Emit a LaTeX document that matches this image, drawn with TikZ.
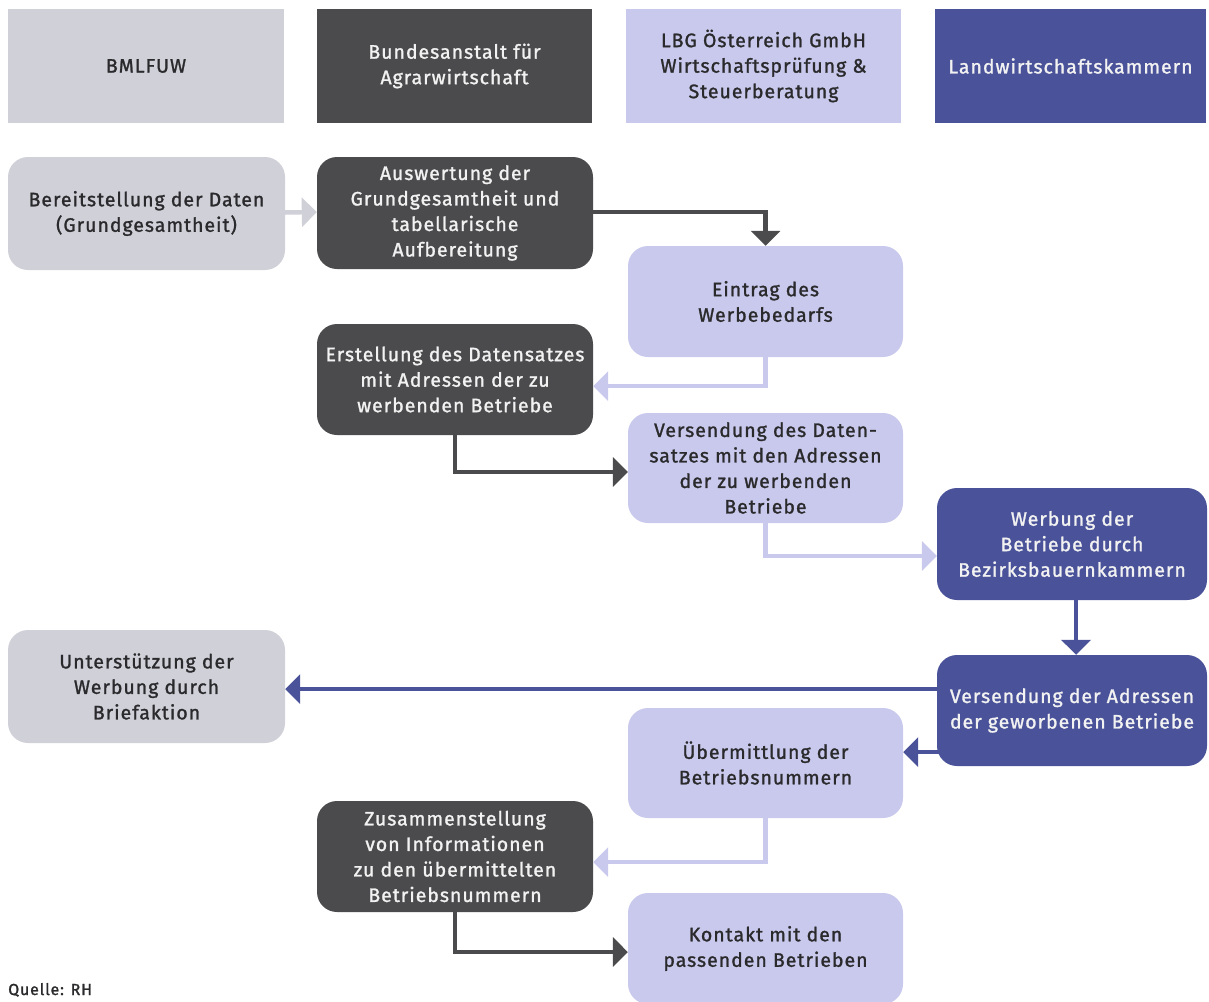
\documentclass[tikz,border=0pt]{standalone}
\usepackage{fontspec}
\setmainfont{Fira Sans}[FakeBold=1.3, LetterSpace=5]
\usetikzlibrary{arrows.meta}
\definecolor{lgray}{HTML}{CFD0D8}
\definecolor{dgray}{HTML}{4B4B4D}
\definecolor{lav}{HTML}{C8C9EC}
\definecolor{dblue}{HTML}{4A5399}
\definecolor{darktext}{HTML}{2A2A2C}
\definecolor{lighttext}{HTML}{F2F2F2}
\begin{document}
\begin{tikzpicture}[x=1pt,y=-1pt,
  txt/.style={inner sep=0pt, align=center, font=\fontsize{19.5}{25.5}\selectfont},
  hbox/.style={txt, minimum height=114pt},
  rbox/.style={txt, rounded corners=20pt},
  lg/.style={fill=lgray, text=darktext},
  dg/.style={fill=dgray, text=lighttext},
  lv/.style={fill=lav, text=darktext},
  db/.style={fill=dblue, text=lighttext},
  arr/.style={line width=4.5pt, -{Triangle[length=15pt,width=29pt]}},
]
\useasboundingbox (0,0) rectangle (1209,1001);
% header
\node[hbox,lg,minimum width=276pt] (H1) at (146,66) {BMLFUW};
\node[hbox,dg,minimum width=275pt] (H2) at (454.5,66) {Bundesanstalt für\\Agrarwirtschaft};
\node[hbox,lv,minimum width=275pt] (H3) at (763.5,66) {LBG Österreich GmbH\\Wirtschaftsprüfung \&\\Steuerberatung};
\node[hbox,db,minimum width=271pt] (H4) at (1070.5,66) {Landwirtschaftskammern};
% process boxes
\node[rbox,lg,minimum width=277pt,minimum height=113pt] (B1) at (146.5,213.5) {Bereitstellung der Daten\\(Grundgesamtheit)};
\node[rbox,dg,minimum width=276pt,minimum height=112pt] (B2) at (455,213) {Auswertung der\\Grundgesamtheit und\\tabellarische\\Aufbereitung};
\node[rbox,lv,minimum width=275pt,minimum height=111pt] (B3) at (765.5,301.5) {Eintrag des\\Werbebedarfs};
\node[rbox,dg,minimum width=276pt,minimum height=111pt] (B4) at (455,379.5) {Erstellung des Datensatzes\\mit Adressen der zu\\werbenden Betriebe};
\node[rbox,lv,minimum width=275pt,minimum height=110pt] (B5) at (765.5,468) {Versendung des Daten-\\satzes mit den Adressen\\der zu werbenden\\Betriebe};
\node[rbox,db,minimum width=270pt,minimum height=112pt] (B6) at (1072,544) {Werbung der\\Betriebe durch\\Bezirksbauernkammern};
\node[rbox,db,minimum width=270pt,minimum height=111pt] (B7) at (1072,710.5) {Versendung der Adressen\\der geworbenen Betriebe};
\node[rbox,lg,minimum width=277pt,minimum height=113pt] (B8) at (146.5,686.5) {Unterstützung der\\Werbung durch\\Briefaktion};
\node[rbox,lv,minimum width=275pt,minimum height=110pt] (B9) at (765.5,763) {Übermittlung der\\Betriebsnummern};
\node[rbox,dg,minimum width=276pt,minimum height=111pt] (B10) at (455,856.5) {Zusammenstellung\\von Informationen\\zu den übermittelten\\Betriebsnummern};
\node[rbox,lv,minimum width=275pt,minimum height=111pt] (B11) at (765.5,948.5) {Kontakt mit den\\passenden Betrieben};
\node[inner sep=0pt, anchor=base west, text=darktext, font=\fontsize{16}{18}\selectfont] (Q) at (8,995) {Quelle: RH};
% connectors
\draw[arr,lgray] ([yshift=1pt]B1.east) -- ([yshift=1pt]B2.west);
\draw[arr,dgray] ([yshift=1pt]B2.east) -| (B3.north);
\draw[arr,lav] (B3.south) |- ([yshift=-6.5pt]B4.east);
\draw[arr,dgray] (B4.south) |- ([yshift=-4pt]B5.west);
\draw[arr,lav] (B5.south) |- ([yshift=-12pt]B6.west);
\draw[arr,dblue] ([xshift=4pt]B6.south) -- ([xshift=4pt]B7.north);
\draw[arr,dblue] ([yshift=21.5pt]B7.west) -- ([yshift=21.5pt]B7.west -| B8.east);
\draw[arr,dblue] ([xshift=8pt,yshift=-41.5pt]B7.west) -- ([yshift=-41.5pt]B7.west -| B9.east);
\draw[arr,lav] (B9.south) |- ([yshift=-5.5pt]B10.east);
\draw[arr,dgray] (B10.south) |- ([yshift=-3.5pt]B11.west);
\end{tikzpicture}
\end{document}
